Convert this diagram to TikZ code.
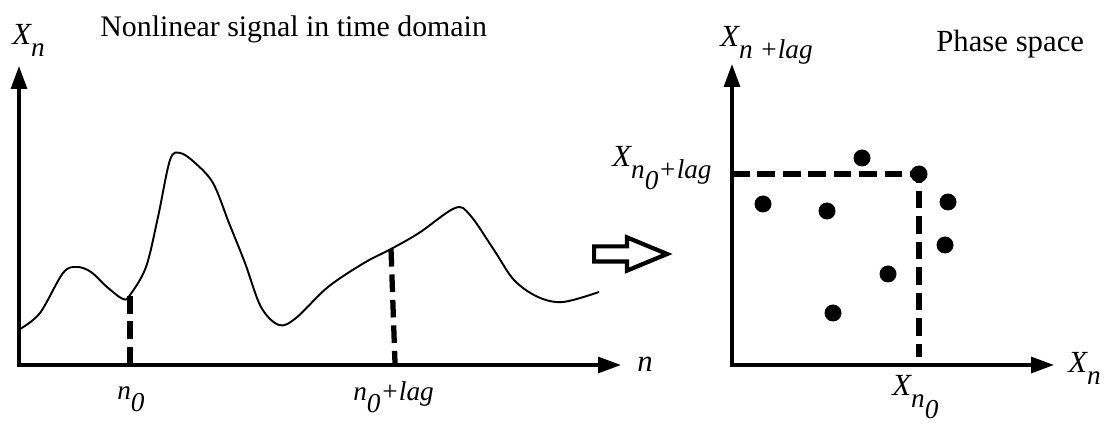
\documentclass[tikz,border=0pt]{standalone}
\usepackage{fontspec}
\setmainfont{Liberation Serif}
\usetikzlibrary{arrows.meta,positioning,shapes.arrows}

\newcommand{\lowsub}[1]{\raisebox{-6.5pt}{\fontsize{15.5}{16}\selectfont #1}}

\tikzset{
  axes/.style={{Triangle[length=13pt,width=9pt]}-{Triangle[length=13pt,width=9pt]}, line width=1.9pt},
  dashline/.style={line width=3pt, dash pattern=on 10pt off 4.5pt},
  lbl/.style={inner sep=0pt, anchor=base west, font=\fontsize{17.5}{20}\selectfont},
  ticklbl/.style={lbl, font=\fontsize{15.5}{18}\selectfont},
  dot/.style={circle, fill=black, inner sep=0pt, minimum size=0.34cm},
}

\begin{document}
\begin{tikzpicture}[x=0.02cm, y=-0.02cm]
    \useasboundingbox (0,0) rectangle (1106,428);
    % Time domain axes
    \coordinate (oL) at (19,365);
    \coordinate (yL) at (19,66);
    \coordinate (xL) at (621,365);
    \draw[axes] (yL) -- (oL) -- (xL);
    \node[lbl] (xnL) at (12,45) {\textit{X\lowsub{n}}};
    \node[lbl, font=\fontsize{17}{20}\selectfont] (title) at (100,37) {Nonlinear signal in time domain};
    \node[lbl] (nL) at (637,372) {\textit{n}};
    \node[ticklbl] (n0) at (117,400) {\textit{n\lowsub{0}}};
    \node[ticklbl] (n0lag) at (353,401) {\textit{n\lowsub{0}+lag}};

    % Signal
    \draw[line width=1.1pt, line join=round] plot[smooth, tension=0.55] coordinates {
        (20,329) (40,313) (63,273) (77,267) (91,272) (107,287) (123,299) (130,295)
        (146,267) (158,217) (170,160) (180,153) (194,162) (213,183) (229,223)
        (245,263) (261,307) (279,325) (296,318) (328,287) (364,263) (391,249)
        (419,233) (455,208) (470,215) (494,250) (514,280) (538,297) (563,302) (599,292)};
    \coordinate (c0) at (130,296);
    \coordinate (c1) at (391,249);
    \coordinate (c1b) at (395,363);
    \draw[dashline] (c0) -- (c0 |- oL);
    \draw[dashline] (c1) -- (c1b);

    % Mapping arrow
    \node[single arrow, draw, line width=2.4pt, inner sep=0.11cm, single arrow head extend=0.18cm,
          single arrow tip angle=45, single arrow head indent=0pt, minimum height=1.46cm,
          anchor=tail] (map) at (592,254) {};

    % Phase space axes
    \coordinate (oR) at (732,365);
    \coordinate (yR) at (732,64);
    \coordinate (xR) at (1054,365);
    \draw[axes] (yR) -- (oR) -- (xR);
    \node[lbl] (xnlag) at (720,47) {\textit{X\lowsub{n +lag}}};
    \node[lbl] (phase) at (936,52) {Phase space};
    \node[lbl] (xn0lag) at (612,167) {\textit{X\lowsub{n\lowsub{0}+lag}}};
    \node[lbl] (xnR) at (1068,373) {\textit{X\lowsub{n}}};
    \node[lbl] (xn0) at (892,396) {\textit{X\lowsub{n\lowsub{0}}}};

    % Points
    \node[dot] (pc) at (919,174) {};
    \foreach \px/\py [count=\i] in {862/158, 763/204, 827/211, 948/202, 945/245, 888/274, 833/313}
        \node[dot] (p\i) at (\px,\py) {};
    \coordinate (vb) at (919,357);
    \draw[dashline] (oR |- pc) -- (pc.center) -- (vb);
\end{tikzpicture}
\end{document}
